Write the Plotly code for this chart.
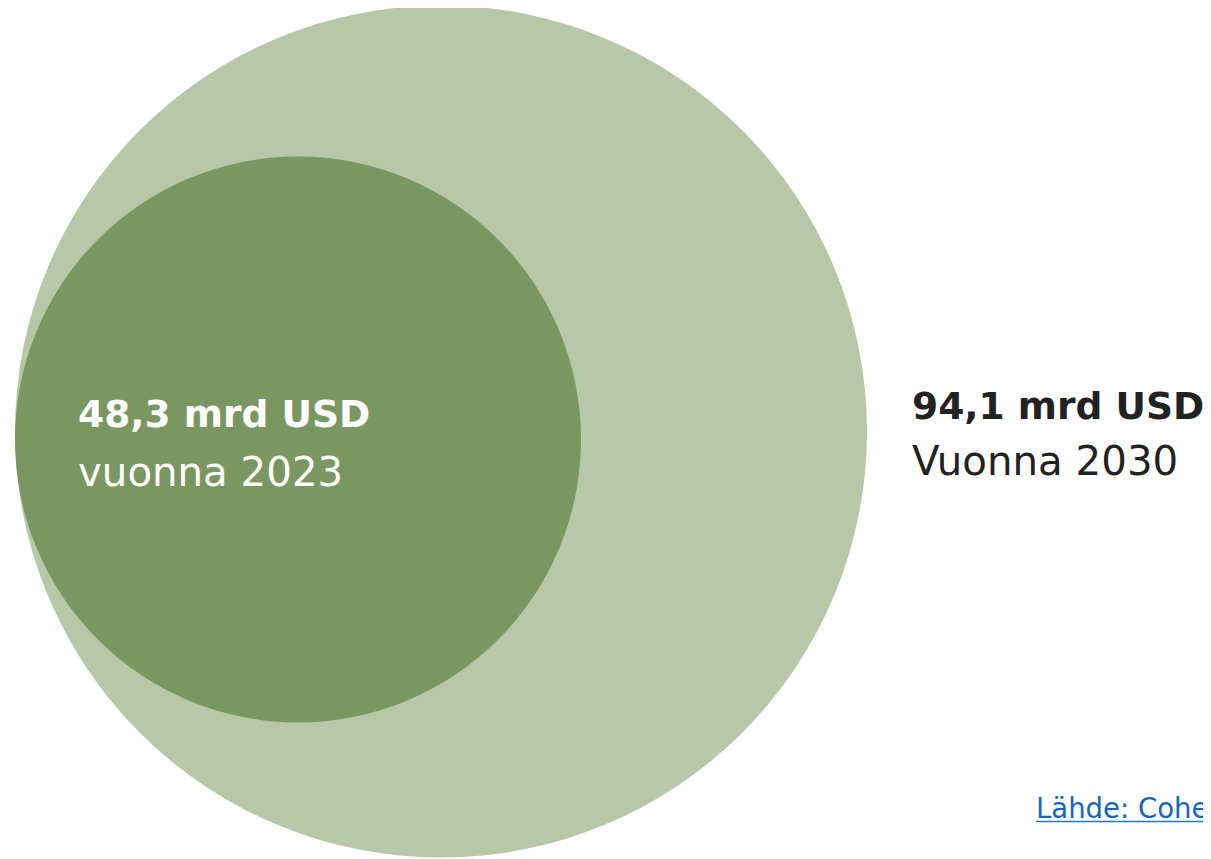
import plotly.graph_objects as go

# ---- data ----
values = [48.3, 94.1]
years = [2023, 2030]
unit = "mrd USD"
year_words = ["vuonna", "Vuonna"]
source_text = "Lähde: Cohe"

# ---- layout constants (pixels of the page) ----
PAGE_W, PAGE_H = 1211, 859
OFF = 8  # default page body margin
FIG_W, FIG_H = PAGE_W - OFF, PAGE_H - OFF
big = dict(cx=441, cy=431.5, r=426)
small = dict(cx=298, cy=439.5, r=283)
col_big = "#b6c8a8"
col_small = "#7a9761"
FONT = "DejaVu Sans, Inter, sans-serif"

fig = go.Figure()
fig.add_trace(go.Scatter(x=[OFF, PAGE_W], y=[OFF, OFF + FIG_H], mode="markers",
                         marker=dict(opacity=0), hoverinfo="skip", showlegend=False))

for c, col in [(big, col_big), (small, col_small)]:
    fig.add_shape(type="circle", xref="x", yref="y",
                  x0=c["cx"] - c["r"], x1=c["cx"] + c["r"],
                  y0=c["cy"] - c["r"], y1=c["cy"] + c["r"],
                  fillcolor=col, line=dict(width=0), layer="below")

def fmt(v):
    return f"{v:.1f}".replace(".", ",")

labels = [
    dict(x=76, y=414, txt=f"<b>{fmt(values[0])} {unit}</b>", color="white", size=37.6),
    dict(x=76, y=472, txt=f"{year_words[0]} {years[0]}", color="white", size=40.3),
    dict(x=910, y=405.5, txt=f"<b>{fmt(values[1])} {unit}</b>", color="#222222", size=37.6),
    dict(x=910, y=461.5, txt=f"{year_words[1]} {years[1]}", color="#222222", size=40.3),
]
for L in labels:
    fig.add_annotation(x=L["x"], y=L["y"], xref="x", yref="y", text=L["txt"],
                       showarrow=False, xanchor="left", yanchor="middle",
                       font=dict(family=FONT, size=L["size"], color=L["color"]))

fig.add_annotation(x=1034, y=807.5, xref="x", yref="y", text=source_text,
                   showarrow=False, xanchor="left", yanchor="middle",
                   font=dict(family=FONT, size=27.5, color="#1565c0"))
fig.add_shape(type="line", xref="x", yref="y", x0=1036, x1=PAGE_W, y0=821.5, y1=821.5,
              line=dict(color="#1f78d1", width=1.5))

fig.update_layout(
    width=FIG_W, height=FIG_H, margin=dict(l=0, r=0, t=0, b=0),
    paper_bgcolor="white", plot_bgcolor="white",
    xaxis=dict(range=[OFF, PAGE_W], visible=False, fixedrange=True),
    yaxis=dict(range=[OFF + FIG_H, OFF], visible=False, fixedrange=True),
    showlegend=False,
)

fig.write_html("out.html", config={"displayModeBar": False})
